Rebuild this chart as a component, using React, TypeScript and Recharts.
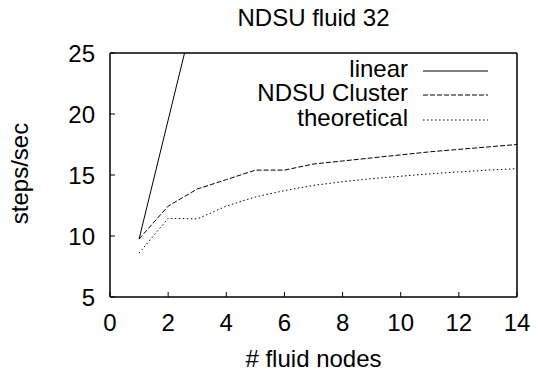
import { LineChart, Line, XAxis, YAxis, Legend } from 'recharts'

const nodes = [1, 2, 3, 4, 5, 6, 7, 8, 9, 10, 11, 12, 13, 14]
const linear = [9.75, 19.5, 29.25]
const cluster = [9.75, 12.45, 13.85, 14.62, 15.4, 15.4, 15.9, 16.15, 16.4, 16.65, 16.9, 17.1, 17.3, 17.5]
const theoretical = [8.6, 11.45, 11.4, 12.45, 13.2, 13.72, 14.15, 14.45, 14.7, 14.9, 15.1, 15.25, 15.4, 15.52]
const xTicks = [0, 2, 4, 6, 8, 10, 12, 14]
const yTicks = [5, 10, 15, 20, 25]

const series = [
  { key: 'linear', name: 'linear', dash: undefined as string | undefined },
  { key: 'cluster', name: 'NDSU Cluster', dash: '5 2' },
  { key: 'theoretical', name: 'theoretical', dash: '1.5 2.5' },
]

const data = nodes.map((n, i) => ({
  nodes: n,
  linear: linear[i],
  cluster: cluster[i],
  theoretical: theoretical[i],
}))

const FONT = '"Liberation Sans", Arial, Helvetica, sans-serif'
const tickStyle = { fontSize: 24, fill: '#000', fontFamily: FONT }

function LegendBox() {
  return (
    <div style={{ fontSize: 24, color: '#000', fontFamily: FONT }}>
      {series.map(s => (
        <div key={s.key} style={{ display: 'flex', height: 24.8 }}>
          <span style={{ flex: 1, textAlign: 'right', lineHeight: '24.8px', whiteSpace: 'nowrap' }}>{s.name}</span>
          <svg width={65} height={24.8} style={{ marginLeft: 15, flex: 'none' }}>
            <line x1={0} x2={65} y1={14} y2={14} stroke="#000" strokeWidth={1} strokeDasharray={s.dash} />
          </svg>
        </div>
      ))}
    </div>
  )
}

function YLabel(props: any) {
  const vb = props.viewBox ?? { x: 0, y: 53, width: 110, height: 244 }
  const cx = vb.x + 28
  const cy = vb.y + vb.height / 2 - 1.5
  return (
    <text x={cx} y={cy} transform={`rotate(-90, ${cx}, ${cy})`} textAnchor="middle"
      fontSize={24} fill="#000" fontFamily={FONT}>
      steps/sec
    </text>
  )
}

export default function App() {
  return (
    <div style={{ position: 'absolute', left: 0, top: 0, width: 540, height: 375, background: '#fff', fontFamily: FONT }}>
      <LineChart width={540} height={375} data={data} margin={{ top: 52, right: 22, bottom: 0, left: 0 }}>
        <XAxis
          dataKey="nodes" type="number" domain={[0, 14]} ticks={xTicks} interval={0} allowDataOverflow
          height={78} tickSize={-5} tickMargin={22} tick={tickStyle}
          axisLine={{ stroke: '#000', strokeWidth: 1.5 }} tickLine={{ stroke: '#000' }}
          label={{ value: '# fluid nodes', position: 'insideBottom', offset: 8, fontSize: 24, fill: '#000' }}
        />
        <XAxis
          xAxisId="top" orientation="top" type="number" domain={[0, 14]} ticks={xTicks} interval={0} allowDataOverflow
          height={1} tickSize={-5} tick={false}
          axisLine={{ stroke: '#000', strokeWidth: 1.5 }} tickLine={{ stroke: '#000' }}
          label={{ value: 'NDSU fluid 32', position: 'top', offset: 26, fontSize: 24, fill: '#000' }}
        />
        <YAxis
          type="number" domain={[5, 25]} ticks={yTicks} interval={0} allowDataOverflow
          width={110} tickSize={-5} tickMargin={20} tick={tickStyle}
          axisLine={{ stroke: '#000', strokeWidth: 1.5 }} tickLine={{ stroke: '#000' }}
          label={{ content: YLabel }}
        />
        <YAxis
          yAxisId="right" orientation="right" type="number" domain={[5, 25]} ticks={yTicks} interval={0} allowDataOverflow
          width={1} tickSize={-5} tick={false}
          axisLine={{ stroke: '#000', strokeWidth: 1.5 }} tickLine={{ stroke: '#000' }}
        />
        <Legend
          layout="vertical" align="center" verticalAlign="middle"
          content={<LegendBox />}
          wrapperStyle={{ position: 'absolute', left: 198, top: 56.7, width: 290 }}
        />
        {series.map(s => (
          <Line
            key={s.key} dataKey={s.key} name={s.name} type="linear"
            stroke="#000" strokeWidth={1} strokeDasharray={s.dash}
            dot={false} activeDot={false} isAnimationActive={false} connectNulls={false}
          />
        ))}
      </LineChart>
    </div>
  )
}
